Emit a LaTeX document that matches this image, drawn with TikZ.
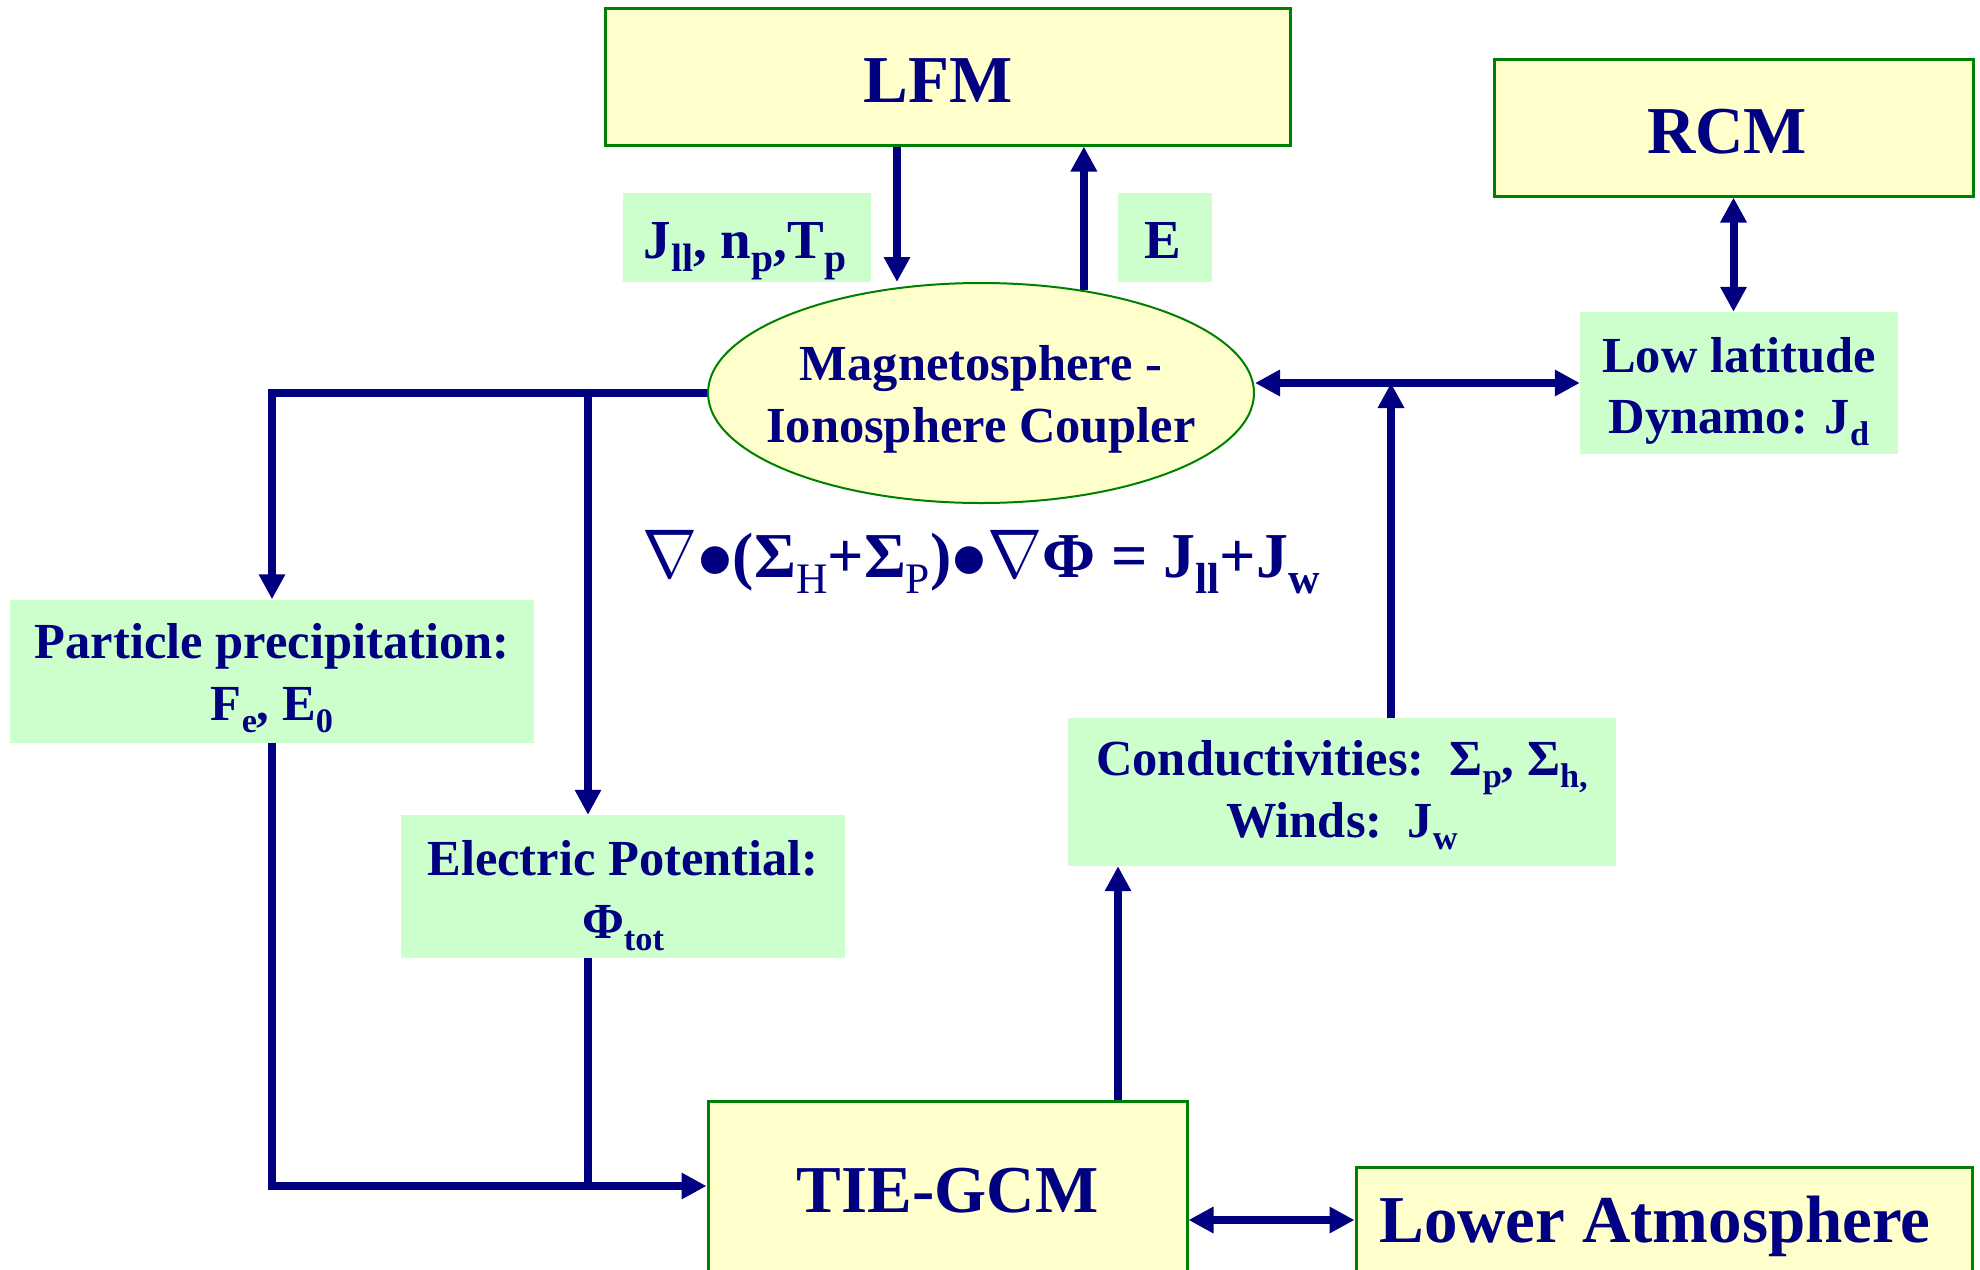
\documentclass[tikz,border=0pt]{standalone}
\usepackage{fontspec}
\setmainfont{Liberation Serif}
\usetikzlibrary{arrows.meta,shapes.geometric,calc}
\definecolor{navyc}{RGB}{0,0,128}
\definecolor{boxy}{RGB}{255,255,204}
\definecolor{boxg}{RGB}{204,255,204}
\definecolor{edgeg}{RGB}{0,128,0}
\newcommand\lo[1]{\raisebox{-0.25em}{\scalebox{0.68}{#1}}}
\newcommand\lob[1]{\raisebox{-0.25em}{\scalebox{0.72}{#1}}}
\newcommand\nab{\scalebox{6.6}[6.9]{\fontsize{10}{12}\selectfont$\nabla$}}
\newcommand\bul{\raisebox{-0.27em}{\scalebox{1.6}{\textbullet}}}
\newcommand\medf{\fontsize{50.5}{62}\selectfont\bfseries}
\newcommand\labf{\fontsize{55}{62}\selectfont\bfseries}
\newcommand\bigf{\fontsize{67}{80}\selectfont\bfseries}
\newcommand\eqf{\fontsize{64}{76}\selectfont\bfseries}
\tikzset{
  ybox/.style={draw=edgeg, line width=3pt, fill=boxy, inner sep=0pt},
  gbox/.style={fill=boxg, inner sep=0pt},
  txt/.style={text=navyc, inner sep=0pt, anchor=base},
  line/.style={draw=navyc, line width=8pt, line join=miter},
  arr/.style={line, -{Triangle[length=25pt,width=25pt]}},
  arrtwo/.style={line, {Triangle[length=25pt,width=25pt]}-{Triangle[length=25pt,width=25pt]}},
}
\begin{document}
\begin{tikzpicture}[x=1pt,y=-1pt]
\useasboundingbox[fill=white] (0,0) rectangle (1980,1269);
% boxes
\node[ybox, minimum width=685pt, minimum height=137pt] (lfm) at (947.5,76.5) {};
\node[ybox, minimum width=479pt, minimum height=137pt] (rcm) at (1733.5,127.5) {};
\node[gbox, minimum width=248pt, minimum height=89pt] (jl) at (747,237.5) {};
\node[gbox, minimum width=94pt, minimum height=89pt] (eb) at (1165,237.5) {};
\node[ellipse, draw=edgeg, line width=2pt, fill=boxy, minimum width=546pt, minimum height=220pt, inner sep=0pt] (mic) at (981,393) {};
\node[gbox, minimum width=318pt, minimum height=142pt] (low) at (1739,383) {};
\node[gbox, minimum width=524pt, minimum height=143pt] (pp) at (272,671) {};
\node[gbox, minimum width=444pt, minimum height=143pt] (ep) at (623,886.5) {};
\node[gbox, minimum width=548pt, minimum height=148pt] (cond) at (1342,792) {};
\node[ybox, minimum width=479pt, minimum height=190pt] (tie) at (947.5,1196) {};
\node[ybox, minimum width=616pt, minimum height=106pt] (la) at (1664,1220) {};
% texts
\node[txt, font=\bigf] (lfmt) at (938,102) {LFM};
\node[txt, font=\bigf] (rcmt) at (1727,153) {RCM};
\node[txt, font=\bigf] (tiet) at (947.5,1212) {TIE-GCM};
\node[txt, font=\bigf] (lat) at (1655,1242) {Lower Atmosphere};
\node[txt, font=\labf] (jlt) at (745,258) {J\lob{ll}, n\lob{p},T\lob{p}};
\node[txt, font=\labf] (ebt) at (1163,258) {E};
\node[txt, font=\medf] (mic1) at (981,380) {Magnetosphere -};
\node[txt, font=\medf] (mic2) at (981,442) {Ionosphere Coupler};
\node[txt, font=\medf] (low1) at (1739,372) {Low latitude};
\node[txt, font=\medf] (low2) at (1739,433) {Dynamo: J\lo{d}};
\node[txt, font=\medf] (pp1) at (272,658) {Particle precipitation:};
\node[txt, font=\medf] (pp2) at (272,720) {F\lo{e}, E\lo{0}};
\node[txt, font=\medf] (ep1) at (623,875) {Electric Potential:};
\node[txt, font=\medf] (ep2) at (623,938) {Φ\lo{tot}};
\node[txt, font=\medf] (cd1) at (1342,775) {Conductivities:\ \ Σ\lo{p}, Σ\lo{h,}};
\node[txt, font=\medf] (cd2) at (1342,837) {Winds:\ \ J\lo{w}};
\node[txt, font=\eqf] (eq) at (981,577) {\nab\bul(Σ\lo{\mdseries H}+Σ\lo{\mdseries P})\bul\nab Φ = J\lo{ll}+J\lo{w}};
% helper coordinates
\coordinate (xa) at (897,0);
\coordinate (xb) at (588,0);
\coordinate (xc) at (1391,0);
\coordinate (xd) at (1118,0);
\coordinate (ya) at (0,1186);
% connectors
\draw[arr] (xa |- lfm.south) -- (xa |- mic.north);
\draw[arr] (mic.45) -- (mic.45 |- lfm.south);
\draw[arrtwo] (rcm.south) -- (rcm.south |- low.north);
\draw[arrtwo] (mic.east |- low.west) -- (low.west);
\draw[arr] (xc |- cond.north) -- (xc |- low.west);
\draw[arr] (mic.west) -| (pp.north);
\draw[arr] (xb |- mic.west) -- (xb |- ep.north);
\draw[arr] (pp.south) |- (ya -| tie.west);
\draw[line] (xb |- ep.south) -- (xb |- ya);
\draw[arr] (xd |- tie.north) -- (xd |- cond.south);
\draw[arrtwo] (la.west -| tie.east) -- (la.west);
\end{tikzpicture}
\end{document}
